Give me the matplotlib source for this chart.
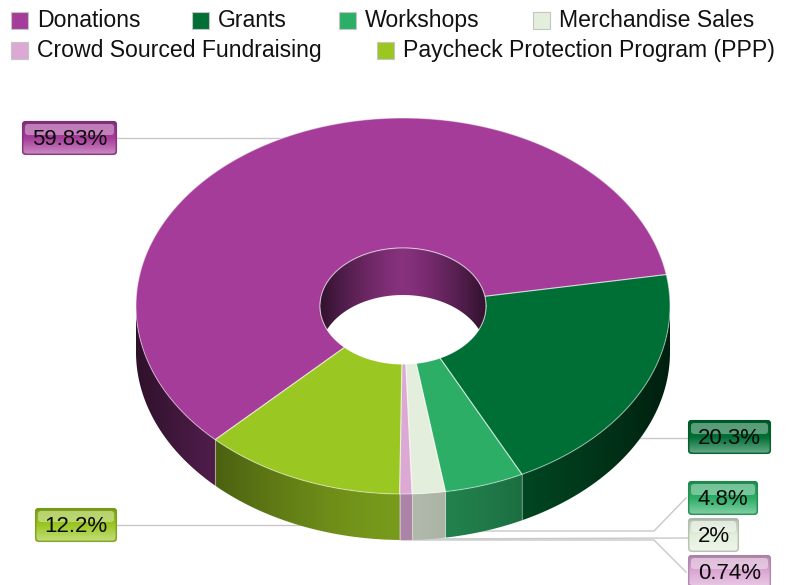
import numpy as np
import matplotlib
matplotlib.use("Agg")
import matplotlib.pyplot as plt
from matplotlib.colors import LinearSegmentedColormap, to_rgb
from matplotlib.patches import FancyBboxPatch, Polygon, Rectangle

categories = ["Donations", "Grants", "Workshops", "Merchandise Sales",
              "Crowd Sourced Fundraising", "Paycheck Protection Program (PPP)"]
values = [59.83, 20.3, 4.8, 2, 0.74, 12.2]
colors = ["#A63C9A", "#006F35", "#2DAE67", "#E3EFDC", "#DCA9D5", "#9BC723"]

# layout, in pixels of the picture
cx, cy, rx, ry = 403, 306, 267, 188
hrx, hry = 83, 58
depth = 46
hole_depth = 47
start = 225.3
legend_pos = [(11, 20), (192, 20), (339, 20), (533, 20), (11, 50), (377, 50)]
boxes = [(22, 121, 95), (688, 420, 83), (688, 481, 70), (688, 518, 51), (688, 555, 83), (35, 508, 82)]
leaders = [
    [(117, 138), (290, 138)],
    [(630, 438), (688, 438)],
    [(430, 531), (654, 531), (686, 498)],
    [(410, 539), (688, 538)],
    [(400, 540), (654, 540), (686, 572)],
    [(117, 525), (340, 525)],
]

plt.rcParams["font.family"] = ["Liberation Sans", "DejaVu Sans"]
fig = plt.figure(figsize=(7.92, 5.85), dpi=100)
ax = fig.add_axes([0, 0, 1, 1])


def shade(c, f):
    return tuple(v * f for v in to_rgb(c))


def mix(c, other, f):
    return tuple(a * (1 - f) + b * f for a, b in zip(to_rgb(c), to_rgb(other)))


def gradient_fill(pts, rgb_row, extent, z):
    # paints a horizontal colour ramp inside the polygon pts
    clip = Polygon(pts, fc="none", ec="none", transform=ax.transData)
    ax.add_patch(clip)
    im = ax.imshow(rgb_row, aspect="auto", extent=extent, interpolation="bilinear", zorder=z)
    im.set_clip_path(clip)


for pts in leaders:
    ax.plot(*zip(*pts), color="#c8c8c8", lw=1, zorder=1)

# slice angles, going clockwise
sweeps = np.array(values) / sum(values) * 360
ends = start - np.cumsum(sweeps)
starts = ends + sweeps

# outer wall, only the front half shows
wall_x = np.arange(cx - rx, cx + rx + 1.0)
wall_f = 0.78 - 0.5 * (np.abs(wall_x - cx) / rx) ** 1.5
for a0, a1, col in zip(starts, ends, colors):
    for hi in [a0 % 360, (a0 % 360) + 360, (a0 % 360) - 360]:
        lo = hi - (a0 - a1)
        t0, t1 = max(lo, 180), min(hi, 360)
        if t1 <= t0:
            continue
        ts = np.radians(np.linspace(t0, t1, 150))
        xs = cx + rx * np.cos(ts)
        ys = cy - ry * np.sin(ts)
        pts = np.vstack([np.column_stack([xs, ys]), np.column_stack([xs, ys + depth])[::-1]])
        row = np.array([[shade(col, f) for f in wall_f]])
        gradient_fill(pts, row, (cx - rx - 0.5, cx + rx + 0.5, cy + ry + depth + 2, cy - 2), 2)
        for t in (t0, t1):
            if 180 < t < 360:
                px, py = cx + rx * np.cos(np.radians(t)), cy - ry * np.sin(np.radians(t))
                ax.plot([px, px], [py, py + depth], color="white", alpha=0.22, lw=0.8, zorder=3)

# top face
for a0, a1, col in zip(starts, ends, colors):
    ts = np.radians(np.linspace(a0, a1, 200))
    outer = np.column_stack([cx + rx * np.cos(ts), cy - ry * np.sin(ts)])
    inner = np.column_stack([cx + hrx * np.cos(ts), cy - hry * np.sin(ts)])[::-1]
    ax.add_patch(Polygon(np.vstack([outer, inner]), fc=col, ec="none", zorder=4))
    ax.add_patch(Polygon(np.vstack([outer, inner]), fc="none", ec=(1, 1, 1, 0.45), lw=0.8, zorder=5))

# hole, with its inner wall showing at the back
th = np.radians(np.linspace(0, 360, 300))
ax.add_patch(Polygon(np.column_stack([cx + hrx * np.cos(th), cy - hry * np.sin(th)]),
                     fc="white", ec="none", zorder=6))
hx = np.linspace(cx - hrx, cx + hrx, 300)
hh = hry * np.sqrt(np.clip(1 - ((hx - cx) / hrx) ** 2, 0, 1))
htop = cy - hh
hlow = np.minimum(htop + hole_depth, cy + hh)
hole_f = 0.82 - 0.52 * (np.abs(hx - cx) / hrx) ** 1.3
gradient_fill(np.vstack([np.column_stack([hx, htop]), np.column_stack([hx, hlow])[::-1]]),
              np.array([[shade(colors[0], f) for f in hole_f]]),
              (cx - hrx, cx + hrx, cy + hry, cy - hry), 7)
ax.plot(cx + hrx * np.cos(th), cy - hry * np.sin(th), color=(1, 1, 1, 0.45), lw=0.8, zorder=8)

# legend
for name, col, (lx, ly) in zip(categories, colors, legend_pos):
    ax.add_patch(Rectangle((lx, ly - 8.5), 16.5, 17, fc=col, ec="#c4c4c4", lw=0.8, zorder=9))
    ax.text(lx + 26, ly + 7, name, fontsize=16.6, color="#111111", va="baseline", ha="left", zorder=9)

# glossy value labels
for val, col, (bx, by, bw) in zip(values, colors, boxes):
    bh = 34
    outer = FancyBboxPatch((bx + 2, by + 2), bw - 4, bh - 4, boxstyle="round,pad=2,rounding_size=4",
                           fc=shade(col, 0.85), ec="none", zorder=10)
    ax.add_patch(outer)
    grad = LinearSegmentedColormap.from_list(
        "g", [(0, shade(col, 0.72)), (0.1, shade(col, 0.85)), (0.5, col), (1, mix(col, "white", 0.42))])
    im = ax.imshow(np.linspace(0, 1, 68).reshape(-1, 1), cmap=grad, aspect="auto",
                   extent=(bx, bx + bw, by + bh, by), origin="upper", zorder=11)
    im.set_clip_path(outer)
    # soft highlight over the upper half, then a thin rim all round
    ax.add_patch(FancyBboxPatch((bx + 4, by + 4), bw - 8, 9, boxstyle="round,pad=1,rounding_size=3",
                                fc=mix(col, "white", 0.5), ec="none", alpha=0.7, zorder=12))
    ax.add_patch(FancyBboxPatch((bx + 0.7, by + 0.7), bw - 1.4, bh - 1.4, boxstyle="round,pad=0,rounding_size=4",
                                fc="none", ec=shade(col, 0.78), lw=1.1, alpha=0.85, zorder=12))
    ax.text(bx + bw / 2, by + 24, f"{val:g}%", fontsize=16, color="#0a0a0a",
            ha="center", va="baseline", zorder=13)

ax.set_xlim(0, 792)
ax.set_ylim(585, 0)
ax.axis("off")
fig.savefig("out.png", dpi=100, facecolor="white")
